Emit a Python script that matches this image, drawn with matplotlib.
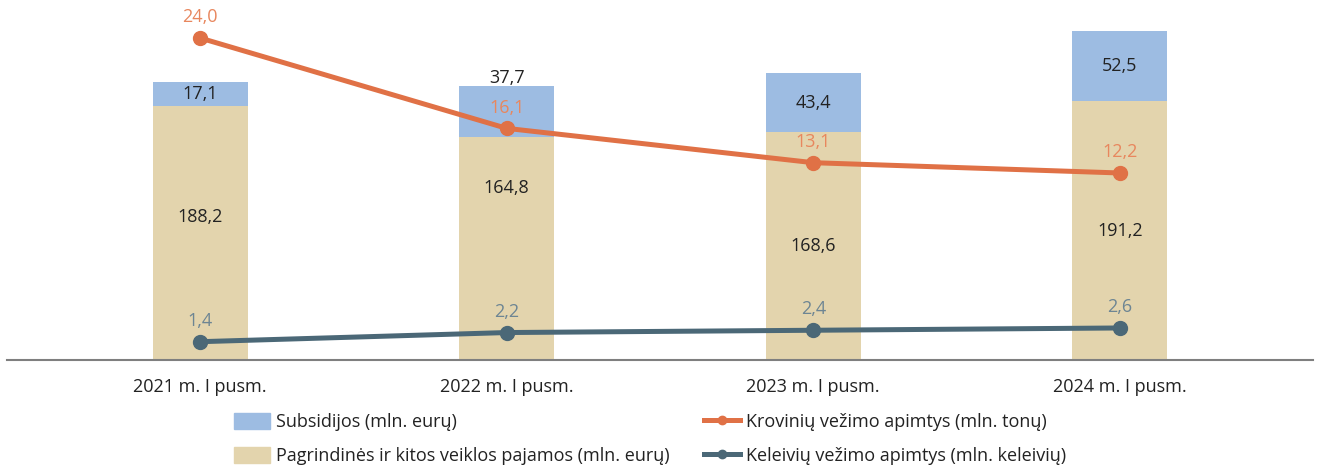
import matplotlib
matplotlib.use("Agg")
import matplotlib.pyplot as plt
from matplotlib.lines import Line2D
from matplotlib.patches import Patch
import numpy as np

plt.rcParams['font.family'] = ['Open Sans', 'DejaVu Sans']

periods = ['2021 m. I pusm.', '2022 m. I pusm.', '2023 m. I pusm.', '2024 m. I pusm.']
pajamos = [188.2, 164.8, 168.6, 191.2]
subsidijos = [17.1, 37.7, 43.4, 52.5]
kroviniai = [24.0, 16.1, 13.1, 12.2]
keleiviai = [1.4, 2.2, 2.4, 2.6]

c_beige = '#E3D4AD'
c_blue = '#9DBCE2'
c_orange = '#E07146'
c_teal = '#4B6877'
fs = 13

def fmt(v):
    return f'{v:.1f}'.replace('.', ',')

fig = plt.figure(figsize=(13.19, 4.67), dpi=100)
ax = fig.add_axes([7 / 1319, 1 - 360 / 467, 1306 / 1319, 338 / 467])
# the two lines sit on their own (hidden) scales
ax_kr = ax.twinx()
ax_kl = ax.twinx()

x = np.arange(len(periods))
w = 0.31
ax.bar(x, pajamos, w, color=c_beige, zorder=1)
ax.bar(x, subsidijos, w, bottom=pajamos, color=c_blue, zorder=1)

# bar labels (some nudged off-centre like the original)
paj_shift = [12, 45, 0, 0]
for i in range(len(x)):
    ax.text(x[i], pajamos[i] / 2 + paj_shift[i], fmt(pajamos[i]), ha='center', va='center',
            fontsize=fs, color='#222222')
    if i == 1:
        ax.annotate(fmt(subsidijos[i]), (x[i], pajamos[i] + subsidijos[i]), xytext=(0, 6),
                    textcoords='offset points', ha='center', va='center', fontsize=fs, color='#222222')
    else:
        ax.text(x[i], pajamos[i] + subsidijos[i] / 2, fmt(subsidijos[i]), ha='center', va='center',
                fontsize=fs, color='#222222')

ax.set_ylim(0, 250)
ax.set_xlim(-0.63, 3.63)
ax.set_xticks(x)
ax.set_xticklabels(periods, fontsize=fs, color='#222222')
ax.tick_params(axis='x', length=0, pad=13)
ax.set_yticks([])
for s in ['top', 'right', 'left']:
    ax.spines[s].set_visible(False)
ax.spines['bottom'].set_color('#7F7F7F')
ax.spines['bottom'].set_linewidth(1.5)

ax_kr.plot(x, kroviniai, color=c_orange, lw=3.6, marker='o', ms=10, zorder=3)
ax_kl.plot(x, keleiviai, color=c_teal, lw=3.6, marker='o', ms=10, zorder=3)
for i in range(len(x)):
    ax_kr.annotate(fmt(kroviniai[i]), (x[i], kroviniai[i]), xytext=(0, 15), textcoords='offset points',
                   ha='center', va='center', fontsize=fs, color='#E8875E')
    ax_kl.annotate(fmt(keleiviai[i]), (x[i], keleiviai[i]), xytext=(0, 15), textcoords='offset points',
                   ha='center', va='center', fontsize=fs, color='#6D8593')
ax_kr.set_ylim(-4.15, 25.4)
ax_kl.set_ylim(-0.2, 29.35)
for a in (ax_kr, ax_kl):
    a.set_yticks([])
    for s in ['top', 'right', 'left', 'bottom']:
        a.spines[s].set_visible(False)

handles = [
    Patch(color=c_blue, label='Subsidijos (mln. eurų)'),
    Patch(color=c_beige, label='Pagrindinės ir kitos veiklos pajamos (mln. eurų)'),
    Line2D([], [], color=c_orange, lw=3.6, marker='o', ms=6, label='Krovinių vežimo apimtys (mln. tonų)'),
    Line2D([], [], color=c_teal, lw=3.6, marker='o', ms=6, label='Keleivių vežimo apimtys (mln. keleivių)'),
]
leg = fig.legend(handles=handles, ncol=2, loc='center', bbox_to_anchor=(650 / 1319, 1 - 439 / 467),
                 frameon=False, fontsize=fs, handlelength=2.0, handleheight=1.0, handletextpad=0.35,
                 columnspacing=1.9, labelspacing=0.9)
for t in leg.get_texts():
    t.set_color('#222222')

fig.savefig('out.png', dpi=100)
